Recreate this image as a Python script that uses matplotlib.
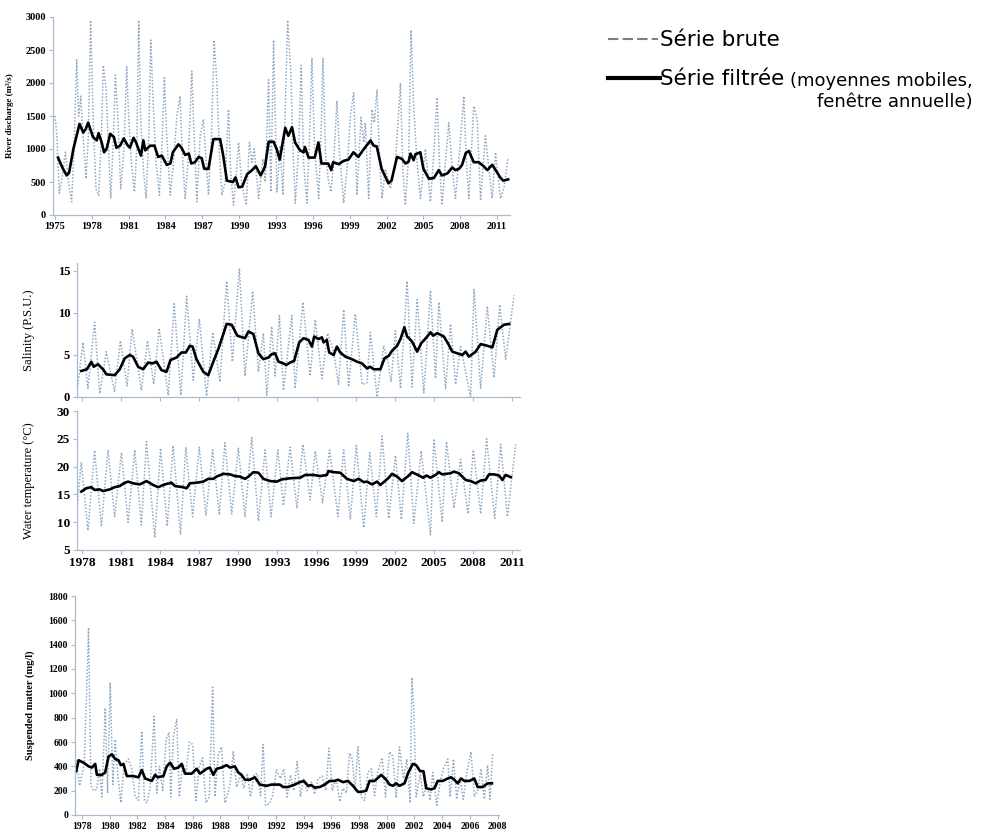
import matplotlib
matplotlib.use("Agg")
import matplotlib.pyplot as plt
from matplotlib.lines import Line2D

# ---- river discharge (m3/s) ----
q_raw_t = [1975.0, 1975.14, 1975.35, 1975.6, 1975.85, 1976.1, 1976.36, 1976.55, 1976.77, 1976.93,
           1977.1, 1977.25, 1977.53, 1977.72, 1977.9, 1978.12, 1978.34, 1978.56, 1978.78, 1978.94,
           1979.16, 1979.32, 1979.54, 1979.76, 1979.92, 1980.14, 1980.35, 1980.62, 1980.84, 1981.0,
           1981.22, 1981.47, 1981.66, 1981.82, 1981.98, 1982.2, 1982.42, 1982.64, 1982.8, 1983.02,
           1983.23, 1983.5, 1983.72, 1983.91, 1984.1, 1984.38, 1984.65, 1984.92, 1985.19, 1985.35,
           1985.6, 1985.87, 1986.14, 1986.33, 1986.55, 1986.82, 1987.09, 1987.28, 1987.5, 1987.74,
           1987.96, 1988.18, 1988.4, 1988.59, 1988.86, 1989.13, 1989.32, 1989.54, 1989.76, 1989.95,
           1990.19, 1990.57, 1990.84, 1991.03, 1991.22, 1991.58, 1991.93, 1992.12, 1992.39, 1992.58,
           1992.8, 1993.07, 1993.34, 1993.56, 1993.94, 1994.21, 1994.38, 1994.57, 1994.84, 1995.05,
           1995.24, 1995.52, 1995.73, 1995.92, 1996.14, 1996.47, 1996.66, 1996.82, 1997.04, 1997.28,
           1997.47, 1997.69, 1997.96, 1998.18, 1998.51, 1998.83, 1999.05, 1999.32, 1999.59, 1999.92,
           2000.14, 2000.27, 2000.54, 2000.82, 2001.0, 2001.22, 2001.44, 2001.63, 2001.9, 2002.31,
           2002.72, 2003.13, 2003.32, 2003.53, 2003.8, 2003.99, 2004.21, 2004.48, 2004.76, 2005.16,
           2005.57, 2005.84, 2006.11, 2006.33, 2006.52, 2006.79, 2007.07, 2007.34, 2007.61, 2007.96,
           2008.29, 2008.5, 2008.7, 2008.94, 2009.1, 2009.38, 2009.65, 2010.05, 2010.33, 2010.6,
           2010.87, 2011.28, 2011.55, 2011.88]
q_raw = [1500, 1250, 330, 600, 950, 500, 200, 1000, 2350, 1500,
         1800, 1300, 550, 1200, 2950, 1400, 400, 300, 1200, 2270,
         1900, 1200, 250, 1200, 2120, 1400, 400, 1000, 2250, 1500,
         800, 350, 1000, 2950, 1450, 700, 250, 1200, 2650, 1600,
         800, 300, 1100, 2080, 1200, 300, 800, 1500, 1800, 1000,
         250, 900, 2180, 1200, 200, 1200, 1450, 900, 300, 1200,
         2650, 2000, 900, 300, 500, 1600, 600, 150, 600, 1100,
         500, 150, 1100, 800, 1000, 250, 850, 500, 2050, 350,
         2650, 350, 1050, 300, 2950, 2150, 1000, 180, 1000, 2270,
         800, 180, 1200, 2380, 1000, 250, 1200, 2370, 900, 500,
         350, 800, 1730, 900, 180, 800, 1500, 1850, 300, 1480,
         1100, 1400, 250, 1600, 1400, 1900, 800, 250, 700, 400,
         800, 2000, 700, 150, 900, 2800, 1650, 800, 250, 1000,
         200, 900, 1780, 700, 150, 800, 1400, 700, 250, 1000,
         1800, 800, 250, 1100, 1650, 1450, 220, 1200, 700, 250,
         950, 250, 400, 850]
q_filt_t = [1975.25, 1975.6, 1975.95, 1976.15, 1976.5, 1977.0, 1977.3, 1977.5, 1977.7, 1978.1,
            1978.4, 1978.55, 1978.8, 1979.0, 1979.2, 1979.5, 1979.8, 1980.0, 1980.3, 1980.6,
            1980.9, 1981.1, 1981.4, 1981.6, 1982.0, 1982.2, 1982.35, 1982.75, 1983.1, 1983.4,
            1983.7, 1984.1, 1984.4, 1984.6, 1985.05, 1985.3, 1985.6, 1985.9, 1986.1, 1986.4,
            1986.7, 1986.95, 1987.15, 1987.5, 1987.9, 1988.45, 1988.7, 1989.0, 1989.5, 1989.7,
            1989.95, 1990.25, 1990.65, 1991.05, 1991.35, 1991.75, 1992.1, 1992.4, 1992.8, 1993.05,
            1993.3, 1993.75, 1994.0, 1994.3, 1994.55, 1994.95, 1995.25, 1995.35, 1995.65, 1996.15,
            1996.45, 1996.7, 1997.25, 1997.5, 1997.65, 1998.1, 1998.5, 1998.9, 1999.3, 1999.7,
            2000.15, 2000.7, 2000.95, 2001.2, 2001.6, 2002.15, 2002.4, 2002.85, 2003.25, 2003.55,
            2003.8, 2003.95, 2004.2, 2004.35, 2004.75, 2005.0, 2005.45, 2005.85, 2006.25, 2006.5,
            2006.95, 2007.35, 2007.6, 2007.9, 2008.15, 2008.45, 2008.7, 2009.1, 2009.5, 2009.9,
            2010.2, 2010.6, 2010.85, 2011.25, 2011.5, 2011.9]
q_filt = [870, 720, 600, 640, 1000, 1380, 1250, 1300, 1400, 1180,
          1130, 1240, 1100, 950, 1000, 1230, 1180, 1020, 1050, 1160,
          1060, 1020, 1170, 1100, 900, 1130, 980, 1050, 1050, 880,
          900, 760, 780, 950, 1070, 1020, 910, 930, 780, 800,
          880, 860, 700, 700, 1150, 1150, 900, 520, 500, 570,
          420, 430, 620, 680, 740, 600, 730, 1110, 1110, 1000,
          840, 1320, 1200, 1330, 1100, 980, 950, 1030, 870, 870,
          1100, 780, 780, 680, 800, 770, 820, 840, 950, 880,
          1000, 1130, 1050, 1040, 700, 480, 520, 880, 850, 780,
          810, 930, 830, 920, 950, 700, 550, 560, 680, 600,
          630, 720, 680, 700, 760, 940, 970, 800, 800, 740,
          680, 760, 690, 570, 520, 540]

# ---- salinity (PSU) ----
s_raw_t = [1977.6, 1978.08, 1978.46, 1978.97, 1979.36, 1979.87, 1980.5, 1980.95, 1981.46, 1981.85,
           1982.56, 1983.03, 1983.51, 1983.92, 1984.62, 1985.08, 1985.59, 1986.03, 1986.54, 1987.0,
           1987.56, 1988.03, 1988.59, 1989.1, 1989.54, 1990.08, 1990.51, 1991.1, 1991.54, 1991.92,
           1992.18, 1992.56, 1992.82, 1993.15, 1993.46, 1994.1, 1994.36, 1994.95, 1995.51, 1995.9,
           1996.41, 1996.85, 1997.3, 1997.69, 1998.08, 1998.46, 1998.97, 1999.49, 1999.87, 2000.13,
           2000.64, 2001.15, 2001.5, 2001.72, 2002.05, 2002.44, 2002.95, 2003.33, 2003.72, 2004.23,
           2004.74, 2005.13, 2005.38, 2005.9, 2006.28, 2006.67, 2007.05, 2007.82, 2008.08, 2008.59,
           2009.1, 2009.62, 2010.05, 2010.51, 2011.15]
s_raw = [0.3, 6.5, 1.0, 8.9, 0.4, 5.4, 0.6, 6.7, 1.3, 8.1,
         0.8, 6.7, 1.5, 8.2, 0.2, 11.1, 0.2, 12.0, 2.0, 9.3,
         0.1, 7.7, 1.8, 13.8, 4.2, 15.3, 2.5, 12.6, 3.0, 7.6,
         0.2, 8.4, 2.5, 9.7, 0.8, 9.7, 1.0, 11.3, 2.5, 9.2,
         2.2, 7.6, 5.5, 1.5, 10.4, 1.2, 9.9, 1.5, 1.7, 7.7,
         0.0, 6.1, 4.0, 1.8, 7.9, 1.0, 13.8, 1.2, 11.6, 0.5,
         12.7, 2.2, 11.3, 1.0, 8.7, 1.5, 6.0, 0.0, 12.8, 1.0,
         10.8, 2.3, 11.0, 4.5, 12.1]
s_filt_t = [1977.95, 1978.38, 1978.72, 1978.9, 1979.23, 1979.62, 1979.87, 1980.51, 1980.9, 1981.28,
            1981.67, 1981.92, 1982.31, 1982.69, 1983.08, 1983.41, 1983.72, 1984.1, 1984.49, 1984.79,
            1985.26, 1985.64, 1985.97, 1986.28, 1986.49, 1986.79, 1987.31, 1987.69, 1988.08, 1988.46,
            1988.85, 1989.1, 1989.49, 1989.92, 1990.51, 1990.77, 1991.15, 1991.54, 1991.92, 1992.31,
            1992.56, 1992.82, 1993.08, 1993.46, 1993.67, 1993.97, 1994.28, 1994.67, 1995.0, 1995.38,
            1995.64, 1995.82, 1996.15, 1996.41, 1996.54, 1996.79, 1996.97, 1997.31, 1997.56, 1997.82,
            1998.21, 1998.72, 1999.1, 1999.49, 1999.87, 2000.13, 2000.38, 2000.9, 2001.21, 2001.54,
            2001.79, 2002.18, 2002.44, 2002.74, 2002.95, 2003.33, 2003.72, 2004.03, 2004.44, 2004.74,
            2004.95, 2005.26, 2005.77, 2006.15, 2006.41, 2006.79, 2007.18, 2007.44, 2007.69, 2008.21,
            2008.59, 2009.1, 2009.49, 2009.87, 2010.38, 2010.77]
s_filt = [3.1, 3.3, 4.2, 3.6, 3.9, 3.3, 2.7, 2.6, 3.3, 4.6,
          5.0, 4.8, 3.6, 3.3, 4.1, 4.0, 4.2, 3.2, 3.0, 4.4,
          4.7, 5.3, 5.3, 6.1, 6.0, 4.5, 3.0, 2.6, 4.2, 5.7,
          7.5, 8.7, 8.6, 7.3, 7.0, 7.8, 7.5, 5.2, 4.5, 4.7,
          5.1, 5.2, 4.2, 4.0, 3.8, 4.1, 4.3, 6.5, 7.0, 6.8,
          6.0, 7.2, 6.9, 7.1, 6.5, 6.8, 5.3, 5.0, 6.0, 5.3,
          4.8, 4.5, 4.2, 4.0, 3.4, 3.6, 3.3, 3.3, 4.6, 4.9,
          5.5, 6.1, 6.9, 8.3, 7.2, 6.6, 5.4, 6.4, 7.1, 7.7,
          7.3, 7.6, 7.2, 6.2, 5.4, 5.2, 5.0, 5.4, 4.8, 5.4,
          6.3, 6.1, 5.9, 8.0, 8.6, 8.7]

# ---- water temperature (C) ----
w_raw_t = [1977.6, 1977.95, 1978.46, 1978.97, 1979.49, 1980.0, 1980.51, 1981.03, 1981.54, 1982.05,
           1982.56, 1982.95, 1983.59, 1984.03, 1984.54, 1985.0, 1985.56, 1985.97, 1986.49, 1987.0,
           1987.51, 1988.03, 1988.54, 1988.97, 1989.49, 1990.0, 1990.51, 1991.03, 1991.54, 1992.05,
           1992.51, 1993.03, 1993.46, 1993.97, 1994.49, 1994.95, 1995.51, 1995.9, 1996.46, 1997.0,
           1997.64, 1998.08, 1998.59, 1999.05, 1999.62, 2000.08, 2000.59, 2001.03, 2001.54, 2002.05,
           2002.51, 2003.0, 2003.46, 2004.03, 2004.74, 2005.0, 2005.64, 2005.97, 2006.54, 2007.05,
           2007.62, 2008.03, 2008.59, 2009.05, 2009.67, 2010.13, 2010.64, 2011.28]
w_raw = [12.1, 20.8, 8.5, 22.9, 9.2, 23.0, 11.0, 22.5, 10.0, 23.0,
         9.5, 24.5, 7.2, 23.3, 9.3, 23.8, 7.8, 23.5, 11.0, 23.5,
         11.2, 23.0, 11.3, 24.3, 11.5, 23.3, 11.0, 25.2, 10.2, 23.0,
         11.0, 23.0, 13.0, 23.5, 12.5, 24.0, 14.0, 22.8, 13.5, 23.0,
         11.0, 23.0, 10.5, 23.8, 9.0, 22.5, 11.0, 25.5, 10.7, 22.0,
         10.5, 26.0, 9.8, 22.8, 7.7, 25.0, 10.0, 24.5, 12.5, 21.3,
         11.5, 23.0, 11.5, 25.0, 10.7, 24.0, 11.0, 24.0]
w_filt_t = [1977.95, 1978.33, 1978.72, 1978.97, 1979.36, 1979.62, 1980.13, 1980.51, 1980.9, 1981.21,
            1981.54, 1981.92, 1982.44, 1982.95, 1983.46, 1983.85, 1984.36, 1984.87, 1985.13, 1985.77,
            1986.03, 1986.28, 1986.79, 1987.31, 1987.69, 1988.08, 1988.33, 1988.85, 1989.36, 1989.74,
            1990.13, 1990.51, 1990.77, 1991.15, 1991.54, 1991.92, 1992.44, 1992.95, 1993.33, 1993.97,
            1994.74, 1995.13, 1995.77, 1996.28, 1996.79, 1996.92, 1997.31, 1997.82, 1998.33, 1998.85,
            1999.23, 1999.62, 1999.87, 2000.26, 2000.64, 2000.9, 2001.54, 2001.79, 2002.18, 2002.56,
            2003.08, 2003.33, 2003.85, 2004.18, 2004.44, 2004.74, 2005.13, 2005.38, 2005.64, 2006.28,
            2006.54, 2006.92, 2007.44, 2007.82, 2008.21, 2008.59, 2008.97, 2009.23, 2009.62, 2010.0,
            2010.26, 2010.51, 2010.9]
w_filt = [15.5, 16.1, 16.3, 15.8, 15.9, 15.6, 15.9, 16.3, 16.5, 17.0,
          17.3, 17.0, 16.8, 17.4, 16.7, 16.3, 16.8, 17.1, 16.5, 16.3,
          16.1, 17.0, 17.1, 17.3, 17.8, 17.8, 18.2, 18.7, 18.6, 18.3,
          18.2, 17.8, 18.2, 19.0, 18.9, 17.8, 17.4, 17.3, 17.7, 17.9,
          18.0, 18.5, 18.5, 18.3, 18.5, 19.2, 19.0, 18.9, 17.8, 17.4,
          17.8, 17.2, 17.3, 16.8, 17.3, 16.7, 18.0, 18.7, 18.2, 17.4,
          18.4, 19.0, 18.4, 18.0, 18.4, 18.0, 18.5, 19.0, 18.6, 18.8,
          19.1, 18.8, 17.6, 17.4, 17.0, 17.5, 17.6, 18.6, 18.6, 18.4,
          17.6, 18.5, 18.1]

# ---- suspended matter (mg/l) ----
m_raw_t = [1977.59, 1977.83, 1978.17, 1978.48, 1978.65, 1978.84, 1979.08, 1979.27, 1979.44, 1979.68,
           1979.85, 1980.04, 1980.23, 1980.4, 1980.57, 1980.81, 1981.05, 1981.36, 1981.6, 1981.84,
           1982.08, 1982.32, 1982.51, 1982.68, 1982.92, 1983.21, 1983.4, 1983.59, 1983.83, 1984.07,
           1984.29, 1984.41, 1984.6, 1984.84, 1985.03, 1985.27, 1985.51, 1985.75, 1985.99, 1986.23,
           1986.47, 1986.71, 1986.95, 1987.19, 1987.43, 1987.6, 1987.84, 1988.08, 1988.32, 1988.68,
           1988.92, 1989.16, 1989.45, 1989.69, 1989.93, 1990.17, 1990.41, 1990.65, 1990.89, 1991.08,
           1991.25, 1991.51, 1991.75, 1992.04, 1992.33, 1992.57, 1992.81, 1993.05, 1993.29, 1993.53,
           1993.77, 1994.01, 1994.25, 1994.56, 1994.8, 1995.04, 1995.35, 1995.59, 1995.83, 1996.07,
           1996.36, 1996.6, 1996.84, 1997.08, 1997.32, 1997.51, 1997.7, 1997.92, 1998.16, 1998.4,
           1998.64, 1998.88, 1999.12, 1999.36, 1999.67, 1999.91, 2000.2, 2000.44, 2000.68, 2000.92,
           2001.21, 2001.45, 2001.69, 2001.81, 2001.95, 2002.12, 2002.41, 2002.65, 2002.89, 2003.13,
           2003.32, 2003.61, 2003.85, 2004.09, 2004.4, 2004.57, 2004.81, 2005.05, 2005.29, 2005.53,
           2005.77, 2006.08, 2006.32, 2006.56, 2006.8, 2007.04, 2007.28, 2007.45, 2007.64]
m_raw = [450, 240, 420, 1540, 250, 200, 210, 380, 150, 880,
         180, 1090, 250, 620, 350, 100, 420, 460, 380, 150,
         120, 690, 120, 100, 220, 810, 180, 400, 200, 620,
         680, 150, 640, 790, 150, 420, 350, 600, 580, 120,
         400, 470, 100, 150, 1050, 150, 500, 560, 100, 240,
         520, 230, 330, 220, 340, 150, 330, 340, 160, 580,
         80, 90, 150, 370, 300, 380, 150, 330, 200, 440,
         150, 300, 200, 270, 170, 300, 320, 200, 550, 200,
         300, 110, 220, 180, 510, 460, 200, 560, 150, 120,
         350, 380, 160, 360, 470, 150, 520, 480, 140, 560,
         300, 460, 100, 1130, 860, 150, 330, 150, 260, 120,
         350, 80, 270, 380, 460, 150, 460, 130, 300, 130,
         350, 520, 150, 200, 380, 130, 410, 130, 500]
m_filt_t = [1977.59, 1977.76, 1978.12, 1978.48, 1978.72, 1978.96, 1979.08, 1979.44, 1979.68, 1979.92,
            1980.16, 1980.4, 1980.64, 1980.81, 1981.0, 1981.24, 1981.72, 1982.08, 1982.32, 1982.56,
            1983.04, 1983.28, 1983.45, 1983.88, 1984.12, 1984.36, 1984.65, 1984.96, 1985.2, 1985.44,
            1985.92, 1986.28, 1986.52, 1987.0, 1987.24, 1987.48, 1987.72, 1988.08, 1988.44, 1988.68,
            1989.04, 1989.28, 1989.52, 1989.76, 1990.12, 1990.48, 1990.84, 1991.32, 1991.68, 1992.04,
            1992.28, 1992.52, 1992.88, 1993.36, 1993.72, 1994.01, 1994.32, 1994.56, 1994.8, 1995.16,
            1995.52, 1995.88, 1996.24, 1996.48, 1996.84, 1997.2, 1997.56, 1997.92, 1998.16, 1998.52,
            1998.76, 1999.12, 1999.6, 1999.96, 2000.2, 2000.44, 2000.68, 2000.92, 2001.28, 2001.52,
            2001.88, 2002.12, 2002.41, 2002.65, 2002.84, 2003.2, 2003.44, 2003.68, 2004.04, 2004.4,
            2004.64, 2004.88, 2005.12, 2005.36, 2005.6, 2005.96, 2006.32, 2006.56, 2006.92, 2007.28,
            2007.59]
m_filt = [360, 450, 430, 400, 390, 420, 330, 330, 350, 480,
          500, 460, 450, 410, 420, 320, 320, 310, 370, 300,
          280, 330, 310, 320, 400, 430, 380, 390, 420, 340,
          340, 380, 340, 380, 390, 330, 380, 390, 410, 390,
          400, 350, 330, 290, 290, 310, 250, 240, 250, 250,
          250, 230, 230, 250, 270, 280, 240, 245, 225, 230,
          250, 280, 280, 290, 270, 280, 240, 190, 190, 200,
          280, 280, 330, 290, 250, 240, 260, 240, 260, 340,
          420, 410, 360, 360, 220, 210, 220, 280, 280, 300,
          310, 290, 260, 300, 280, 280, 300, 230, 230, 260,
          260]

RAW_C = "#8ea8c2"
AX_C = "#a9bccf"
plt.rcParams["font.family"] = ["Liberation Serif", "DejaVu Serif"]

fig = plt.figure(figsize=(9.88, 8.36), dpi=100)
W, H = 988.0, 836.0


def make_ax(x0, x1, ytop, ybot):
    return fig.add_axes([x0 / W, 1 - ybot / H, (x1 - x0) / W, (ybot - ytop) / H])


def style(ax, size):
    for s in ("top", "right"):
        ax.spines[s].set_visible(False)
    for s in ("left", "bottom"):
        ax.spines[s].set_color(AX_C)
        ax.spines[s].set_linewidth(0.9)
    ax.tick_params(length=3, width=0.8, color=AX_C, labelsize=size, pad=2)
    for lab in ax.get_xticklabels() + ax.get_yticklabels():
        lab.set_fontweight("bold")


def draw(ax, t_raw, v_raw, t_f, v_f):
    ax.plot(t_raw, v_raw, color=RAW_C, lw=1.1, ls=(0, (1, 1.2)))
    ax.plot(t_f, v_f, color="black", lw=1.9)


# panel 1
ax1 = make_ax(53, 510, 17, 215)
draw(ax1, q_raw_t, q_raw, q_filt_t, q_filt)
ax1.set_xlim(1974.84, 2012.05)
ax1.set_ylim(0, 3000)
ax1.set_yticks(range(0, 3001, 500))
ax1.set_xticks(range(1975, 2012, 3))
style(ax1, 7.5)
ax1.set_ylabel("River discharge (m³/s)", fontsize=6.5, fontweight="bold")
ax1.yaxis.set_label_coords(-0.085, 0.5)

# panel 2
ax2 = make_ax(77, 520, 262.6, 397)
draw(ax2, s_raw_t, s_raw, s_filt_t, s_filt)
ax2.set_xlim(1977.62, 2011.61)
ax2.set_ylim(0, 16)
ax2.set_yticks([0, 5, 10, 15])
ax2.set_xticks(range(1978, 2012, 3))
ax2.set_xticklabels([])
style(ax2, 9)
ax2.set_ylabel("Salinity (P.S.U.)", fontsize=9)
ax2.yaxis.set_label_coords(-0.095, 0.5)

# panel 3
ax3 = make_ax(77, 520, 411, 550)
draw(ax3, w_raw_t, w_raw, w_filt_t, w_filt)
ax3.set_xlim(1977.62, 2011.61)
ax3.set_ylim(5, 30)
ax3.set_yticks(range(5, 31, 5))
ax3.set_xticks(range(1978, 2012, 3))
style(ax3, 9.5)
ax3.set_ylabel("Water temperature (°C)", fontsize=9)
ax3.yaxis.set_label_coords(-0.095, 0.5)

# panel 4
ax4 = make_ax(75, 499, 596, 815)
draw(ax4, m_raw_t, m_raw, m_filt_t, m_filt)
ax4.set_xlim(1977.5, 2008.1)
ax4.set_ylim(0, 1800)
ax4.set_yticks(range(0, 1801, 200))
ax4.set_xticks(range(1978, 2009, 2))
style(ax4, 7)
ax4.set_ylabel("Suspended matter (mg/l)", fontsize=7.5, fontweight="bold")
ax4.yaxis.set_label_coords(-0.094, 0.5)

# legend drawn by hand to keep the original layout
leg_font = ["DejaVu Sans"]
fig.add_artist(Line2D([608 / W, 658 / W], [1 - 39 / H, 1 - 39 / H], color="#7f7f7f",
                      lw=1.5, ls=(0, (5, 2))))
fig.text(660 / W, 1 - 40 / H, "Série brute", fontsize=15.5, family=leg_font, va="center")
fig.add_artist(Line2D([608 / W, 660 / W], [1 - 78 / H, 1 - 78 / H], color="black", lw=3))
t_big = fig.text(660 / W, 1 - 79 / H, "Série filtrée", fontsize=15.5, family=leg_font,
                 va="center")
renderer = fig.canvas.get_renderer()
bb = t_big.get_window_extent(renderer)
t_small = fig.text((bb.x1 + 6) / W, 1 - 81 / H, "(moyennes mobiles,", fontsize=13,
                   family=leg_font, va="center")
bb2 = t_small.get_window_extent(renderer)
fig.text(bb2.x1 / W, 1 - 102 / H, "fenêtre annuelle)", fontsize=13, family=leg_font,
         va="center", ha="right")

fig.savefig("out.png", dpi=100)
